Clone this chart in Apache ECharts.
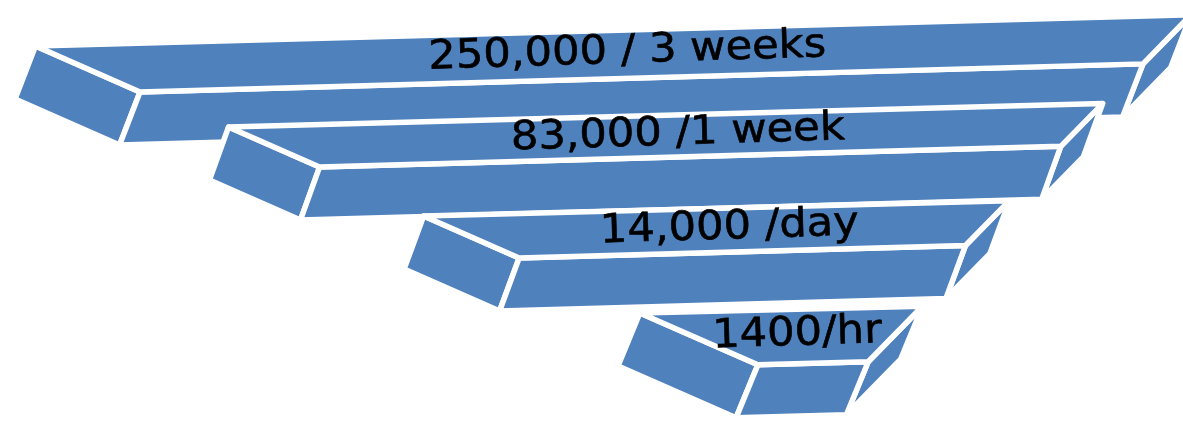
<!DOCTYPE html>
<html>
<head>
<meta charset="utf-8">
<script src="https://cdn.jsdelivr.net/npm/echarts@6.0.0/dist/echarts.min.js"></script>
<style>
html,body{margin:0;padding:0;background:#ffffff;}
#chart{width:1183px;height:421px;}
</style>
</head>
<body>
<div id="chart"></div>
<script>
// ---- data ----
const categories = ['250,000 / 3 weeks', '83,000 /1 week', '14,000 /day', '1400/hr'];
// extent of each block's front face on a 0-100 scale (top block = full width)
const barStart = [0, 17.9, 37.8, 61.6];
const barEnd = [100, 91.8, 82.3, 72.6];

// ---- style ----
const FILL = '#4F81BD';
const depthScale = [1.045, 0.91, 0.955, 1.18];
const TILT = 0.028;

const chart = echarts.init(document.getElementById('chart'), null, {renderer: 'canvas'});

function add(p, v) { return [p[0] + v[0], p[1] + v[1]]; }

function renderItem(params, api) {
  const i = api.value(2);
  const a = api.coord([api.value(0), i]);
  const b = api.coord([api.value(1), i]);
  const s = depthScale[i];
  const L = [-100 * s, -44 * s];
  const R = [46 * s, -47 * s];
  const D = [-20 - (s - 1) * 10, 53];
  // the category point is a reference behind the block; the front edge hangs below it
  const drop = -2 * L[1];
  const FTL = [a[0], a[1] + drop];
  const FTR = [b[0], a[1] + drop - TILT * (b[0] - a[0])];
  const BTL = add(FTL, L);
  const BTR = add(FTR, R);
  const faceStyle = {fill: FILL, stroke: '#ffffff', lineWidth: 5.5, lineJoin: 'round'};
  const faces = [
    [BTL, FTL, add(FTL, D), add(BTL, D)],
    [FTR, BTR, add(BTR, D), add(FTR, D)],
    [FTL, FTR, add(FTR, D), add(FTL, D)],
    [BTL, BTR, FTR, FTL]
  ];
  const children = faces.map(pts => ({
    type: 'polygon',
    shape: {points: pts},
    style: faceStyle
  }));
  const cx = (FTL[0] + FTR[0] + BTL[0] + BTR[0]) / 4;
  const cy = (FTL[1] + FTR[1] + BTL[1] + BTR[1]) / 4;
  children.push({
    type: 'text',
    x: cx,
    y: cy - 2,
    rotation: Math.atan(TILT) * 1.1,
    scaleX: 1.08,
    style: {
      text: categories[i],
      font: '40px "DejaVu Sans"',
      fill: '#000000',
      stroke: '#000000',
      lineWidth: 0.6,
      align: 'center',
      verticalAlign: 'middle'
    }
  });
  return {type: 'group', children: children};
}

chart.setOption({
  animation: false,
  backgroundColor: '#ffffff',
  grid: {left: 140, right: 40, top: -4, bottom: 160},
  xAxis: {type: 'value', min: 0, max: 100, show: false},
  yAxis: {type: 'category', data: categories, inverse: true, boundaryGap: false, show: false},
  series: [{
    type: 'custom',
    clip: false,
    renderItem: renderItem,
    encode: {x: [0, 1], y: 2},
    data: categories.map((c, i) => [barStart[i], barEnd[i], i])
  }]
});
</script>
</body>
</html>
